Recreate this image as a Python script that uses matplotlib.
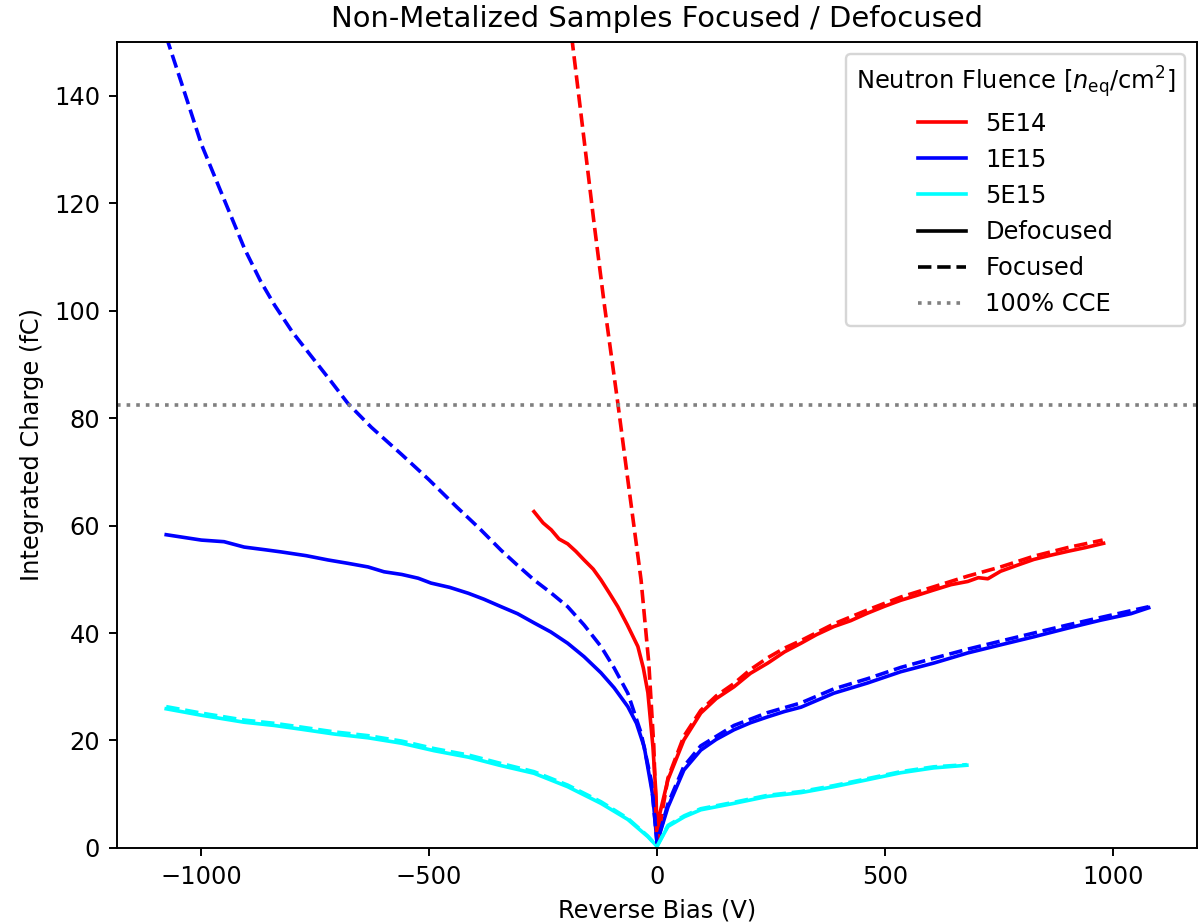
import matplotlib
matplotlib.use("Agg")
import matplotlib.pyplot as plt
from matplotlib.lines import Line2D

# ── Data ─────────────────────────────────────────────────────────────────────

# 5E14, defocused
red_def_x = [-270, -250, -232, -215, -196, -178, -160, -140, -123, -105, -86, -65,
             -42, -30, -20, -9, -2, 0, 5, 24, 59, 96, 130, 169, 205, 243, 280, 316,
             350, 388, 425, 462, 500, 535, 570, 607, 645, 682, 705, 726, 754, 790,
             827, 865, 901, 940, 980]
red_def_y = [62.6, 60.5, 59.2, 57.5, 56.6, 55.2, 53.6, 51.9, 49.9, 47.5, 44.9, 41.5,
             37.5, 33.5, 28.9, 18.9, 9.6, 1.0, 6.0, 12.7, 20.1, 25.1, 27.8, 30.0, 32.5,
             34.4, 36.5, 38.1, 39.7, 41.2, 42.3, 43.7, 45.0, 46.1, 47.0, 48.0, 49.0,
             49.6, 50.3, 50.1, 51.5, 52.6, 53.7, 54.5, 55.2, 55.9, 56.7]

# 5E14, focused
red_foc_x = [-200, -185, -160, -138, -116, -86, -64, -35, -18, -7, 0, 24, 59, 96,
             130, 169, 205, 243, 280, 316, 388, 462, 535, 607, 682, 754, 827, 901, 978]
red_foc_y = [160.0, 149.4, 131.8, 116.2, 101.4, 82.8, 68.5, 49.9, 34.4, 18.9, 1.0,
             13.0, 20.8, 25.6, 28.3, 30.6, 33.2, 35.4, 37.2, 38.6, 41.7, 44.3, 46.7,
             48.6, 50.6, 52.3, 54.3, 55.9, 57.3]

# 1E15, defocused
blue_def_x = [-1077, -1000, -950, -906, -860, -825, -770, -722, -680, -634, -599,
              -560, -524, -496, -455, -414, -380, -342, -306, -270, -233, -196, -160,
              -123, -94, -64, -45, -28, -9, 0, 24, 59, 96, 130, 169, 205, 243, 280,
              316, 388, 462, 535, 607, 682, 754, 827, 901, 974, 1040, 1079]
blue_def_y = [58.3, 57.3, 57.0, 56.0, 55.5, 55.1, 54.4, 53.6, 53.0, 52.3, 51.4, 50.9,
              50.2, 49.3, 48.5, 47.4, 46.3, 44.9, 43.6, 41.9, 40.2, 38.1, 35.6, 32.6,
              29.8, 26.3, 23.2, 18.8, 9.6, 1.0, 7.6, 14.5, 18.2, 20.2, 22.0, 23.3,
              24.4, 25.4, 26.2, 28.8, 30.7, 32.8, 34.4, 36.3, 37.8, 39.3, 40.9, 42.4,
              43.6, 44.7]

# 1E15, focused
blue_foc_x = [-1077, -1044, -1000, -949, -905, -870, -839, -800, -752, -715, -678,
              -627, -560, -500, -440, -390, -342, -306, -270, -233, -196, -160, -123,
              -94, -64, -35, -13, 0, 24, 59, 96, 169, 243, 316, 388, 462, 535, 607,
              682, 754, 827, 901, 974, 1079]
blue_foc_y = [151.0, 142.5, 131.0, 120.5, 111.5, 105.5, 101.0, 96.0, 90.8, 86.8, 82.7,
              78.3, 73.2, 68.5, 63.5, 59.5, 55.4, 52.6, 49.9, 47.5, 44.9, 41.5, 37.5,
              33.5, 28.8, 21.4, 12.7, 1.0, 8.2, 15.2, 19.0, 22.8, 25.2, 27.0, 29.6,
              31.5, 33.6, 35.3, 37.0, 38.5, 40.0, 41.5, 42.9, 44.9]

# 5E15, defocused
cyan_def_x = [-1077, -1000, -906, -840, -781, -708, -634, -561, -489, -414, -346,
              -270, -196, -123, -64, -20, 0, 24, 60, 96, 169, 243, 316, 388, 462, 535,
              607, 680]
cyan_def_y = [25.9, 24.7, 23.4, 22.8, 22.1, 21.2, 20.5, 19.5, 18.1, 16.9, 15.4, 13.9,
              11.4, 8.3, 5.3, 2.1, 0.3, 4.0, 5.8, 7.1, 8.3, 9.6, 10.3, 11.4, 12.7, 14.0,
              14.9, 15.4]

# 5E15, focused
cyan_foc_x = [-1077, -1000, -906, -840, -781, -708, -634, -561, -489, -414, -346,
              -270, -196, -123, -64, -20, 0, 24, 60, 96, 169, 243, 316, 388, 462, 535,
              607, 680]
cyan_foc_y = [26.3, 25.1, 23.8, 23.2, 22.5, 21.6, 20.9, 19.9, 18.5, 17.3, 15.8, 14.2,
              11.7, 8.6, 5.5, 2.2, 0.3, 4.2, 6.0, 7.3, 8.5, 9.8, 10.5, 11.6, 12.9, 14.2,
              15.1, 15.5]

full_cce = 82.5

fluences = ["5E14", "1E15", "5E15"]
colors = ["red", "blue", "cyan"]


# ── Plot ─────────────────────────────────────────────────────────────────────

DPI = 174
fig, ax = plt.subplots(figsize=(1200 / DPI, 923 / DPI), dpi=DPI)
fig.subplots_adjust(left=0.0975, right=0.9975, bottom=0.0813, top=0.9545)

defocused = [(red_def_x, red_def_y), (blue_def_x, blue_def_y), (cyan_def_x, cyan_def_y)]
focused = [(red_foc_x, red_foc_y), (blue_foc_x, blue_foc_y), (cyan_foc_x, cyan_foc_y)]

for (x, y), c in zip(defocused, colors):
    ax.plot(x, y, color=c, linestyle="-", linewidth=1.5)
for (x, y), c in zip(focused, colors):
    ax.plot(x, y, color=c, linestyle="--", linewidth=1.5)

ax.axhline(full_cce, color="gray", linestyle=":", linewidth=1.5)

ax.set_xlim(-1185, 1185)
ax.set_ylim(0, 150)
ax.set_xlabel("Reverse Bias (V)")
ax.set_ylabel("Integrated Charge (fC)")
ax.set_title("Non-Metalized Samples Focused / Defocused")

handles = [Line2D([], [], color=c, linestyle="-") for c in colors]
handles += [Line2D([], [], color="black", linestyle="-"),
            Line2D([], [], color="black", linestyle="--"),
            Line2D([], [], color="gray", linestyle=":")]
labels = fluences + ["Defocused", "Focused", "100% CCE"]
ax.legend(handles, labels, loc="upper right",
          title=r"Neutron Fluence [$n_{\mathrm{eq}}$/cm$^2$]")

fig.savefig("out.png", dpi=DPI)
